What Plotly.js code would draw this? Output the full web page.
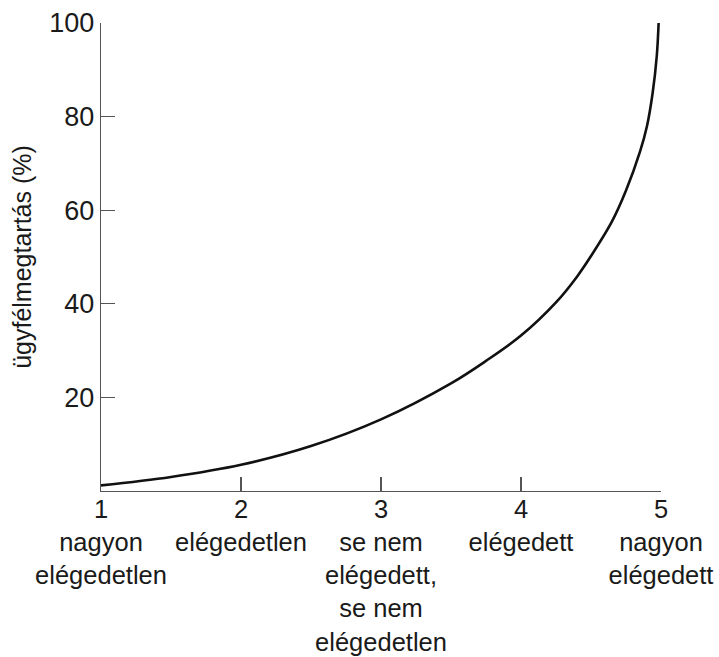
<!DOCTYPE html>
<html>
<head>
<meta charset="utf-8">
<script src="https://cdn.plot.ly/plotly-3.0.1.min.js"></script>
<style>html,body{margin:0;padding:0;background:#fff;}#chart{width:719px;height:657px;}</style>
</head>
<body>
<div id="chart"></div>
<script>
// Satisfaction level (x) and customer retention % (y)
const satisfaction = [1, 1.5, 2, 2.5, 3, 3.5, 3.75, 4, 4.25, 4.4, 4.5, 4.65, 4.75, 4.85, 4.9, 4.94, 4.97, 4.983];
const retention    = [1.2, 3.0, 5.6, 9.6, 15.3, 23.0, 27.8, 33.2, 40.3, 45.8, 50.2, 57.6, 64.2, 72.5, 78.0, 85.0, 93.0, 100];

const xTickVals = [1, 2, 3, 4, 5];
const xTickText = [
  "1<br>nagyon<br>elégedetlen",
  "2<br>elégedetlen",
  "3<br>se nem<br>elégedett,<br>se nem<br>elégedetlen",
  "4<br>elégedett",
  "5<br>nagyon<br>elégedett"
];
const yTickVals = [20, 40, 60, 80, 100];
const yTitle = "ügyfélmegtartás (%)";

const trace = {
  x: satisfaction,
  y: retention,
  mode: "lines",
  line: {color: "#111", width: 2.6, shape: "spline", smoothing: 1},
  hoverinfo: "skip"
};

const font = "Liberation Sans, Arial, Helvetica, sans-serif";
const layout = {
  width: 719, height: 657,
  margin: {l: 101, r: 58, t: 23, b: 166},
  paper_bgcolor: "#fff", plot_bgcolor: "#fff",
  showlegend: false,
  font: {family: font, color: "#1a1a1a", size: 26},
  xaxis: {
    range: [1, 5],
    tickmode: "array", tickvals: xTickVals, ticktext: xTickText,
    ticks: "inside", ticklen: 14, tickwidth: 1.3, tickcolor: "#555",
    showline: true, linecolor: "#555", linewidth: 1.3,
    showgrid: false, zeroline: false,
    ticklabelstandoff: -5,
    tickfont: {family: font, size: 25.5, color: "#1a1a1a"},
    fixedrange: true
  },
  yaxis: {
    range: [0, 100],
    tickmode: "array", tickvals: yTickVals,
    ticks: "inside", ticklen: 14, tickwidth: 1.3, tickcolor: "#555",
    showline: true, linecolor: "#555", linewidth: 1.3,
    showgrid: false, zeroline: false,
    tickfont: {family: font, size: 27, color: "#1a1a1a"},
    title: {text: yTitle, font: {family: font, size: 25, color: "#1a1a1a"}, standoff: 10},
    fixedrange: true
  }
};

Plotly.newPlot("chart", [trace], layout, {displayModeBar: false, staticPlot: true});
</script>
</body>
</html>
